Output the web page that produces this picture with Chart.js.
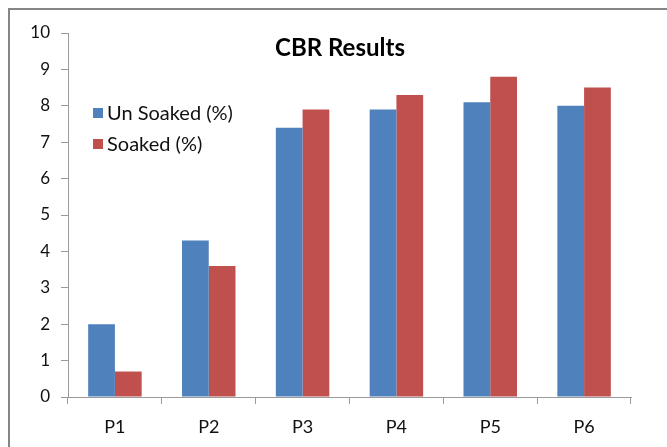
<!DOCTYPE html>
<html>
<head>
<meta charset="utf-8">
<script src="https://cdn.jsdelivr.net/npm/chart.js@4"></script>
<style>
    html, body { margin: 0; padding: 0; background: #fff; overflow: hidden; }
    #frame {
        position: absolute; left: 8px; top: 8px; width: 700px; height: 480px;
        border: 2px solid #858585; box-sizing: border-box;
    }
    #wrap { position: absolute; left: 0; top: 0; width: 667px; height: 447px; }
</style>
</head>
<body>
<div id="frame"></div>
<div id="wrap"><canvas id="cbr"></canvas></div>
<script>
const CATEGORIES = ['P1', 'P2', 'P3', 'P4', 'P5', 'P6'];
const UNSOAKED = [2.0, 4.3, 7.4, 7.9, 8.1, 8.0];
const SOAKED = [0.7, 3.6, 7.9, 8.3, 8.8, 8.5];
const Y_TICKS = [0, 1, 2, 3, 4, 5, 6, 7, 8, 9, 10];

const FONT = 'Lato, "Open Sans", sans-serif';
const AXIS_GREY = '#9a9a9a';

// title and legend sit inside the plot area, so they are drawn by hand
const overlay = {
    id: 'overlay',
    afterDraw(chart) {
        const { ctx, chartArea } = chart;
        ctx.save();
        ctx.fillStyle = '#000';
        ctx.font = 'bold 24px ' + FONT;
        ctx.textAlign = 'center';
        ctx.textBaseline = 'middle';
        ctx.fillText('CBR Results', chartArea.left + 272, chartArea.top + 15);

        ctx.font = '20px ' + FONT;
        ctx.textAlign = 'left';
        chart.data.datasets.forEach((ds, i) => {
            const y = chartArea.top + 80 + i * 31;
            ctx.fillStyle = ds.backgroundColor;
            ctx.fillRect(chartArea.left + 25, y - 5, 10, 10);
            ctx.fillStyle = '#111';
            ctx.fillText(ds.label, chartArea.left + 39, y + 1);
        });
        ctx.restore();
    }
};

new Chart(document.getElementById('cbr'), {
    type: 'bar',
    data: {
        labels: CATEGORIES,
        datasets: [
            { label: 'Un Soaked (%)', data: UNSOAKED, backgroundColor: '#4f81bd' },
            { label: 'Soaked (%)', data: SOAKED, backgroundColor: '#c0504d' }
        ]
    },
    options: {
        responsive: true,
        maintainAspectRatio: false,
        animation: false,
        categoryPercentage: 0.57,
        barPercentage: 1,
        layout: { padding: { left: 0, right: 36, top: 33, bottom: 0 } },
        plugins: { legend: { display: false }, tooltip: { enabled: false } },
        scales: {
            x: {
                afterFit(scale) { scale.height = 50; },
                grid: { drawOnChartArea: false, drawTicks: true, tickLength: 7, color: AXIS_GREY },
                border: { color: AXIS_GREY, width: 1 },
                ticks: { color: '#111', font: { family: FONT, size: 18 }, padding: 12 }
            },
            y: {
                min: 0,
                max: 10,
                afterFit(scale) { scale.width = 68; },
                afterBuildTicks(scale) { scale.ticks = Y_TICKS.map(v => ({ value: v })); },
                grid: { drawOnChartArea: false, drawTicks: true, tickLength: 7, color: AXIS_GREY },
                border: { color: AXIS_GREY, width: 1 },
                ticks: { color: '#111', font: { family: FONT, size: 17 }, padding: 11 }
            }
        }
    },
    plugins: [overlay]
});
</script>
</body>
</html>
